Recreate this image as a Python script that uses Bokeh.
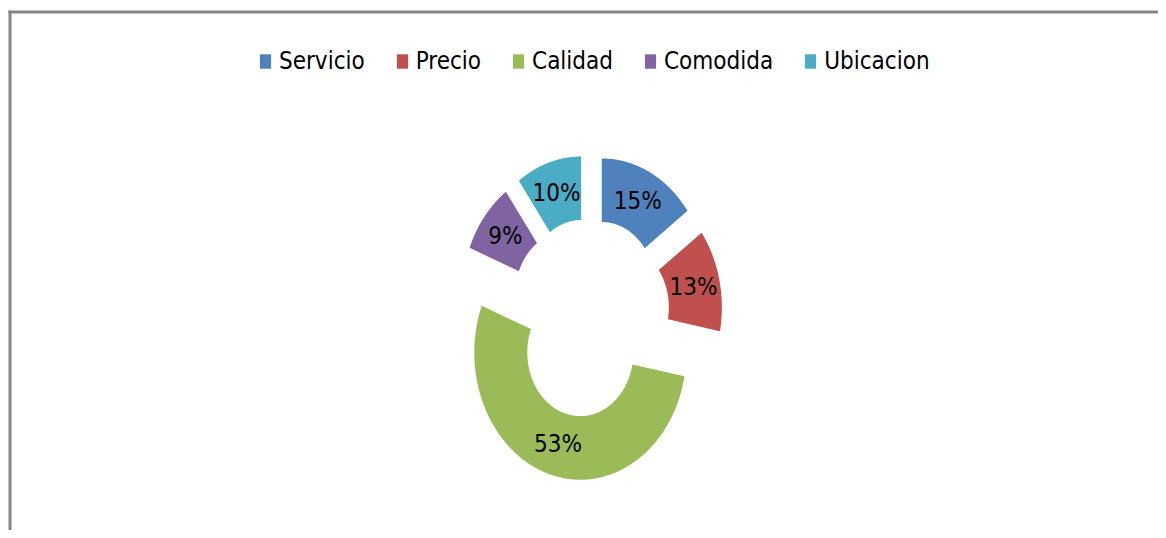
import numpy as np
from bokeh.plotting import figure
from bokeh.models import Range1d, Legend, LegendItem, ColumnDataSource
from bokeh.core.properties import value
from bokeh.embed import file_html
from bokeh.resources import INLINE

# ---- data ----
categories = ["Servicio", "Precio", "Calidad", "Comodida", "Ubicacion"]
percent = [15, 13, 53, 9, 10]
labels = ["15%", "13%", "53%", "9%", "10%"]

# ---- style ----
colors = ["#4F81BD", "#C0504D", "#9BBB59", "#8064A2", "#4BACC6"]
explode = [27, 27, 33, 27, 27]
FONT = "DejaVu Sans Condensed, Lato"

W, H = 1158, 530
p = figure(width=W, height=H, x_range=Range1d(0, W), y_range=Range1d(H, 0),
           output_backend="svg", toolbar_location=None, min_border=0,
           x_axis_location=None, y_axis_location=None)
p.grid.visible = False
p.outline_line_color = None
p.background_fill_color = "white"
p.border_fill_color = "white"

# chart-area border (top and left edges visible)
p.segment(x0=[8, 9.5], y0=[11.5, 10], x1=[W, 9.5], y1=[11.5, H],
          line_color="#868686", line_width=3)

# donut geometry (pixel-like data space, y downward)
cx0, cy0 = 589.0, 314.0
R_out, R_in, k = 106.0, 53.0, 1.2

vals = np.array(percent, dtype=float)
frac = vals / vals.sum()
ends = np.cumsum(frac) * 2 * np.pi
starts = ends - frac * 2 * np.pi

xs, ys, lx, ly = [], [], [], []
for s, e, ex in zip(starts, ends, explode):
    mid = (s + e) / 2
    cx = cx0 + ex * np.sin(mid)
    cy = cy0 - ex * k * np.cos(mid)
    t = np.linspace(s, e, 120)
    ox = cx + R_out * np.sin(t)
    oy = cy - R_out * k * np.cos(t)
    ix = cx + R_in * np.sin(t[::-1])
    iy = cy - R_in * k * np.cos(t[::-1])
    xs.append(np.concatenate([ox, ix]).tolist())
    ys.append(np.concatenate([oy, iy]).tolist())
    rm = (R_out + R_in) / 2
    lx.append(cx + rm * np.sin(mid))
    ly.append(cy - rm * k * np.cos(mid))

src = ColumnDataSource(dict(xs=xs, ys=ys, color=colors, cat=categories))
r = p.patches("xs", "ys", source=src, fill_color="color", line_color=None)

lsrc = ColumnDataSource(dict(x=lx, y=ly, t=labels))
p.text("x", "y", text="t", source=lsrc, text_font=value(FONT), text_font_size="24px",
       text_align="center", text_baseline="middle", text_color="black")

items = [LegendItem(label=c, renderers=[r], index=i) for i, c in enumerate(categories)]
legend = Legend(items=items, orientation="horizontal", location=(258, 455),
                label_text_font=FONT, label_text_font_size="24px",
                label_text_color="black", glyph_width=14, glyph_height=18,
                spacing=30, label_standoff=7, padding=0, margin=0,
                border_line_color=None, background_fill_alpha=0)
p.add_layout(legend)

open("out.html", "w").write(file_html(p, INLINE))
